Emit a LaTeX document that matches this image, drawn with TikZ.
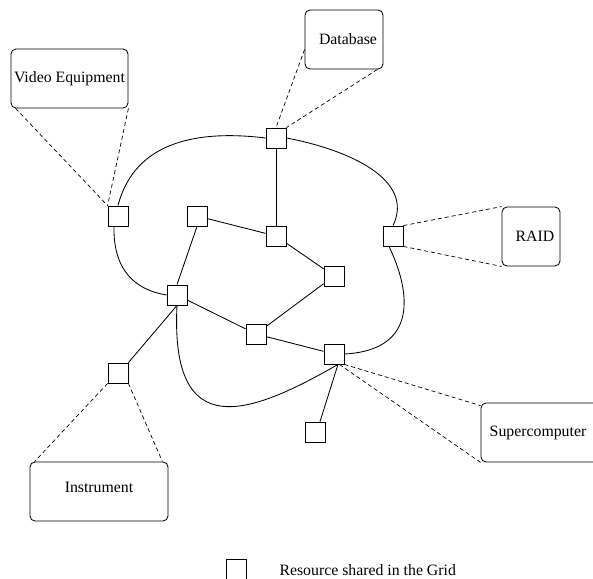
\documentclass[tikz,border=0pt]{standalone}
\usepackage{fontspec}
\setmainfont{Liberation Serif}
\begin{document}
\begin{tikzpicture}[x=1pt,y=-1pt,
  res/.style={draw, minimum size=20pt, inner sep=0pt, line width=0.85pt},
  device/.style={draw, rounded corners=5pt, inner sep=0pt, line width=0.85pt},
  link/.style={line width=0.85pt},
  tether/.style={line width=0.7pt, dash pattern=on 4pt off 3pt},
  font=\fontsize{15.8}{18}\selectfont]
\useasboundingbox (0,0) rectangle (593,578);
\clip (0,0) rectangle (593,578);

% shared resources
\node[res] (A) at (118,216) {};
\node[res] (B) at (276,138) {};
\node[res] (C) at (197,216) {};
\node[res] (D) at (276,236) {};
\node[res] (E) at (177,295) {};
\node[res] (F) at (393,236) {};
\node[res] (G) at (334,276) {};
\node[res] (H) at (256,334) {};
\node[res] (I) at (118,373) {};
\node[res] (J) at (334,354) {};
\node[res] (K) at (315,432) {};

% attached devices
\node[device, minimum width=117pt, minimum height=59pt,
      label={center:Video Equipment}] (vid) at (69.5,78.5) {};
\node[device, minimum width=78pt, minimum height=59pt,
      label={[xshift=4pt]center:Database}] (db) at (344,39.5) {};
\node[device, minimum width=58pt, minimum height=59pt,
      label={[xshift=4pt]center:RAID}] (raid) at (531,236.5) {};
\node[device, minimum width=138pt, minimum height=59pt,
      label={[yshift=4pt]center:Instrument}] (inst) at (99,491.5) {};
\node[device, minimum width=119pt, minimum height=59pt,
      label={[xshift=-2.5pt]center:Supercomputer}] (sc) at (540.5,432.5) {};

% straight links
\draw[link] (B) -- (D);
\draw[link] (C) -- (D);
\draw[link] (C.south) -- (E.north);
\draw[link] (D) -- (G);
\draw[link] (G) -- (H);
\draw[link] (E) -- (H);
\draw[link] (H) -- (J);
\draw[link] (E.south) -- (I.north east);
\draw[link] ([xshift=4pt]J.south) -- ([xshift=5pt]K.north);

% curved links
\draw[link] (A.north) .. controls (135,140) and (200,130) .. (B.west);
\draw[link] (B.east) .. controls (350,150) and (415,180) .. (F.north);
\draw[link] ([xshift=-4pt]F.south) .. controls (410,290) and (420,350) .. (J.east);
\draw[link] ([xshift=-4pt]A.south) .. controls (113,270) and (135,290) .. (E.west);
\draw[link] (E.south) .. controls (170,445) and (250,415) .. ([xshift=4pt]J.south);

% device tethers
\draw[tether] ([xshift=5pt]vid.south west) -- (A.north west);
\draw[tether] (vid.south east) -- (A.north west);
\draw[tether] ([yshift=-10pt]db.west) -- (B.north);
\draw[tether] ([xshift=-6pt]db.south east) -- (B.north east);
\draw[tether] (F.north east) -- (raid.north west);
\draw[tether] (F.south east) -- (raid.south west);
\draw[tether] (J.south east) -- ([yshift=-3pt]sc.north west);
\draw[tether] ([xshift=-5pt]J.south east) -- (sc.south west);
\draw[tether] (I.south west) -- ([xshift=5pt]inst.north west);
\draw[tether] (I.south east) -- ([xshift=-6pt]inst.north east);

% legend
\node[res] (key) at (236.5,569) {};
\node[anchor=base west] (keytext) at (276,575) {Resource shared in the Grid};
\end{tikzpicture}
\end{document}
